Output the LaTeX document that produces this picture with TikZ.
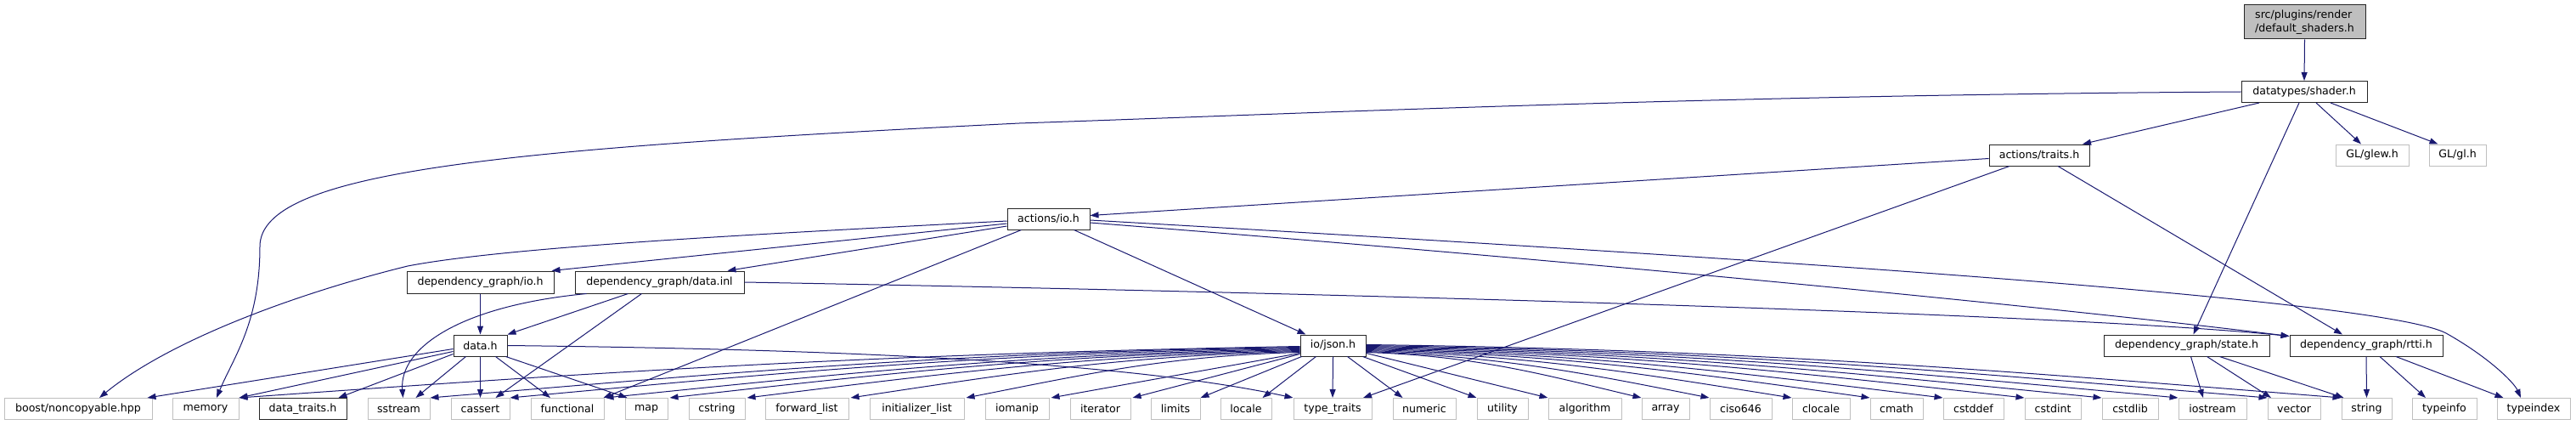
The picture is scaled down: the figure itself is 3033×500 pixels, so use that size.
\documentclass[tikz,border=0pt]{standalone}
\usepackage{fontspec}
\setmainfont{DejaVu Sans}
\usetikzlibrary{arrows.meta}
\definecolor{edgec}{HTML}{191970}
\definecolor{extc}{HTML}{BFBFBF}
\begin{document}
\begin{tikzpicture}[x=1pt,y=1pt,
  every node/.style={font=\fontsize{12.6}{16}\selectfont, inner sep=0pt, minimum height=25pt, anchor=center},
  intn/.style={draw=black!85, line width=1pt, fill=white},
  extn/.style={draw=extc, line width=1pt, fill=white},
  mainn/.style={draw=black!85, line width=1pt, fill=extc, align=left},
  dep/.style={draw=edgec, line width=1pt, -{Triangle[length=10pt,width=7pt]}}]
\useasboundingbox (0,0) rectangle (3033,-500);
% upper nodes
\node[mainn, minimum width=143pt, minimum height=40pt] (main) at (2713.5,-26) {src/plugins/render\\/default\_shaders.h};
\node[intn, minimum width=148pt] (shader) at (2713,-108) {datatypes/shader.h};
\node[extn, minimum width=86pt] (glew) at (2793,-182.5) {GL/glew.h};
\node[extn, minimum width=67pt] (gl) at (2893.5,-182.5) {GL/gl.h};
\node[intn, minimum width=118pt] (traits) at (2401,-182.5) {actions/traits.h};
\node[intn, minimum width=97pt] (aio) at (1234.5,-257.5) {actions/io.h};
\node[intn, minimum width=173pt, minimum height=26pt] (dgio) at (565.5,-332) {dependency\_graph/io.h};
\node[intn, minimum width=199pt, minimum height=26pt] (dinl) at (776.5,-332) {dependency\_graph/data.inl};
\node[intn, minimum width=63pt] (datah) at (565.5,-406.5) {data.h};
\node[intn, minimum width=77pt] (json) at (1569.5,-406.5) {io/json.h};
\node[intn, minimum width=195pt] (state) at (2574.5,-406.5) {dependency\_graph/state.h};
\node[intn, minimum width=180pt] (rtti) at (2786,-406.5) {dependency\_graph/rtti.h};
% bottom row
\node[extn, minimum width=174pt] (boost) at (92,-481) {boost/noncopyable.hpp};
\node[extn, minimum width=78pt] (memory) at (242,-481) {memory};
\node[intn, minimum width=103pt] (dtraits) at (356.5,-481) {data\_traits.h};
\node[extn, minimum width=73pt] (sstream) at (469.5,-481) {sstream};
\node[extn, minimum width=69pt] (cassert) at (565.5,-481) {cassert};
\node[extn, minimum width=86pt] (functional) at (668,-481) {functional};
\node[extn, minimum width=50pt] (map) at (761,-481) {map};
\node[extn, minimum width=66pt] (cstring) at (844,-481) {cstring};
\node[extn, minimum width=98pt] (fwdlist) at (950,-481) {forward\_list};
\node[extn, minimum width=111pt] (initlist) at (1079.5,-481) {initializer\_list};
\node[extn, minimum width=75pt] (iomanip) at (1197.5,-481) {iomanip};
\node[extn, minimum width=71pt] (iterator) at (1295.5,-481) {iterator};
\node[extn, minimum width=58pt] (limits) at (1384,-481) {limits};
\node[extn, minimum width=60pt] (locale) at (1467,-481) {locale};
\node[extn, minimum width=92pt] (typetraits) at (1569,-481) {type\_traits};
\node[extn, minimum width=74pt] (numeric) at (1677,-481) {numeric};
\node[extn, minimum width=60pt] (utility) at (1769,-481) {utility};
\node[extn, minimum width=86pt] (algorithm) at (1866,-481) {algorithm};
\node[extn, minimum width=56pt] (array) at (1961,-481) {array};
\node[extn, minimum width=73pt] (ciso) at (2049.5,-481) {ciso646};
\node[extn, minimum width=68pt] (clocale) at (2144,-481) {clocale};
\node[extn, minimum width=62pt] (cmath) at (2233,-481) {cmath};
\node[extn, minimum width=71pt] (cstddef) at (2323.5,-481) {cstddef};
\node[extn, minimum width=66pt] (cstdint) at (2417,-481) {cstdint};
\node[extn, minimum width=66pt] (cstdlib) at (2508,-481) {cstdlib};
\node[extn, minimum width=80pt] (iostream) at (2605,-481) {iostream};
\node[extn, minimum width=62pt] (vector) at (2701,-481) {vector};
\node[extn, minimum width=59pt] (string) at (2786.5,-481) {string};
\node[extn, minimum width=76pt] (typeinfo) at (2878,-481) {typeinfo};
\node[extn, minimum width=86pt] (typeindex) at (2983,-481) {typeindex};
% edges: main / shader
\draw[dep] (main.south) -- (shader.north);
\draw[dep] ([xshift=14pt]shader.south) -- ([xshift=-13pt]glew.north);
\draw[dep] ([xshift=31pt]shader.south) -- ([xshift=-23pt]gl.north);
\draw[dep] ([xshift=-53pt]shader.south) -- ([xshift=51pt]traits.north);
\draw[dep] ([xshift=-6pt]shader.south) -- ([xshift=8pt]state.north);
\draw[dep] (shader.west) .. controls (2000,-112) and (1500,-135) .. (1200,-145)
  .. controls (600,-175) and (306,-200) .. (306,-290)
  .. controls (306,-380) and (275,-420) .. ([xshift=13pt]memory.north);
% traits
\draw[dep] ([yshift=-4pt]traits.west) -- ([yshift=4pt]aio.east);
\draw[dep] ([xshift=-35pt]traits.south) -- ([xshift=36pt]typetraits.north);
\draw[dep] ([xshift=22pt]traits.south) -- ([xshift=-28pt]rtti.north);
% actions/io.h
\draw[dep] ([yshift=-2.5pt]aio.west) .. controls (900,-275) and (600,-290) .. (480,-313)
  .. controls (350,-345) and (200,-400) .. ([xshift=25pt]boost.north);
\draw[dep] ([yshift=-5.5pt]aio.west) -- ([xshift=-3pt]dgio.north east);
\draw[dep] ([yshift=-8.5pt]aio.west) -- ([xshift=80pt]dinl.north);
\draw[dep] ([xshift=-32pt]aio.south) -- ([xshift=-1pt]functional.north east);
\draw[dep] ([xshift=30pt]aio.south) -- ([xshift=-32pt]json.north);
\draw[dep] ([yshift=-4.5pt]aio.east) .. controls (1900,-310) and (2450,-365) .. ([yshift=-2pt]rtti.north west);
\draw[dep] ([yshift=-1.5pt]aio.east) .. controls (2000,-300) and (2800,-350) .. (2880,-392)
  .. controls (2930,-420) and (2960,-450) .. ([xshift=-15pt]typeindex.north);
% dependency_graph/io.h and data.inl
\draw[dep] (dgio.south) -- (datah.north);
\draw[dep] ([xshift=-37pt]dinl.south) -- (datah.north east);
\draw[dep] ([xshift=-86pt]dinl.south) .. controls (540,-360) and (470,-410) .. ([xshift=5pt]sstream.north);
\draw[dep] ([xshift=-21pt]dinl.south) -- ([xshift=18pt]cassert.north);
\draw[dep] (dinl.east) .. controls (1600,-345) and (2450,-370) .. ([yshift=-2pt]rtti.north west);
% data.h
\draw[dep] ([yshift=-4pt]datah.west) -- ([xshift=-6pt]boost.north east);
\draw[dep] ([yshift=-7pt]datah.west) -- (memory.north east);
\draw[dep] ([yshift=-10pt]datah.west) -- ([xshift=-10pt]dtraits.north east);
\draw[dep] ([xshift=-17pt]datah.south) -- ([xshift=20pt]sstream.north);
\draw[dep] (datah.south) -- (cassert.north);
\draw[dep] ([xshift=18pt]datah.south) -- ([xshift=-20pt]functional.north);
\draw[dep] ([xshift=-2pt]datah.south east) -- ([xshift=3pt]map.north west);
\draw[dep] (datah.east) .. controls (900,-410) and (1300,-420) .. (typetraits.north west);
% io/json.h, left
\draw[dep] ([yshift=-1pt]json.west) .. controls +(-500,-9) and +(437,31) .. (memory.north east);
\draw[dep] ([yshift=-2pt]json.west) .. controls +(-410,-6) and +(359,30) .. (sstream.north east);
\draw[dep] ([yshift=-3pt]json.west) .. controls +(-372,-6) and +(326,30) .. (cassert.north east);
\draw[dep] ([yshift=-4pt]json.west) .. controls +(-328,-6) and +(287,29) .. ([xshift=1pt]functional.north east);
\draw[dep] ([yshift=-5pt]json.west) .. controls +(-297,-6) and +(260,29) .. ([xshift=2pt]map.north east);
\draw[dep] ([yshift=-6pt]json.west) .. controls +(-261,-6) and +(228,28) .. ([xshift=2pt]cstring.north east);
\draw[dep] ([yshift=-7pt]json.west) .. controls +(-212,-5) and +(186,28) .. ([xshift=2pt]fwdlist.north east);
\draw[dep] ([yshift=-8pt]json.west) .. controls +(-158,-4) and +(138,27) .. ([xshift=2pt]initlist.north east);
\draw[dep] ([yshift=-9pt]json.west) -- ([xshift=2pt]iomanip.north east);
\draw[dep] ([yshift=-10pt]json.west) -- ([xshift=2pt]iterator.north east);
\draw[dep] ([xshift=2pt]json.south west) -- (limits.north east);
\draw[dep] ([xshift=19pt]json.south west) -- ([xshift=-11pt]locale.north east);
\draw[dep] (json.south) -- (typetraits.north);
% io/json.h, right
\draw[dep] ([xshift=17pt]json.south) -- ([xshift=12pt]numeric.north west);
\draw[dep] ([xshift=-4pt]json.south east) -- (utility.north west);
\draw[dep] ([yshift=-9pt]json.east) -- (algorithm.north west);
\draw[dep] ([yshift=-8pt]json.east) .. controls +(130,-4) and +(-114,27) .. (array.north west);
\draw[dep] ([yshift=-7pt]json.east) .. controls +(162,-6) and +(-142,28) .. (ciso.north west);
\draw[dep] ([yshift=-6pt]json.east) .. controls +(201,-6) and +(-176,28) .. (clocale.north west);
\draw[dep] ([yshift=-5pt]json.east) .. controls +(238,-6) and +(-208,29) .. (cmath.north west);
\draw[dep] ([yshift=-4pt]json.east) .. controls +(272,-6) and +(-238,29) .. (cstddef.north west);
\draw[dep] ([yshift=-3pt]json.east) .. controls +(310,-6) and +(-272,30) .. (cstdint.north west);
\draw[dep] ([yshift=-2pt]json.east) .. controls +(347,-6) and +(-303,30) .. (cstdlib.north west);
\draw[dep] ([yshift=-1pt]json.east) .. controls +(383,-6) and +(-335,31) .. (iostream.north west);
\draw[dep] (json.east) .. controls +(425,-6) and +(-372,31) .. (vector.north west);
\draw[dep] ([yshift=1pt]json.east) .. controls +(460,-6) and +(-402,32) .. (string.north west);
% state.h and rtti.h
\draw[dep] ([xshift=5pt]state.south) -- ([xshift=-11pt]iostream.north);
\draw[dep] ([xshift=24pt]state.south) -- ([xshift=-27pt]vector.north);
\draw[dep] ([xshift=39pt]state.south) -- ([xshift=3pt]string.north west);
\draw[dep] (rtti.south) -- (string.north);
\draw[dep] ([xshift=16pt]rtti.south) -- ([xshift=-22pt]typeinfo.north);
\draw[dep] ([xshift=35pt]rtti.south) -- ([xshift=8pt]typeindex.north west);
\end{tikzpicture}
\end{document}
